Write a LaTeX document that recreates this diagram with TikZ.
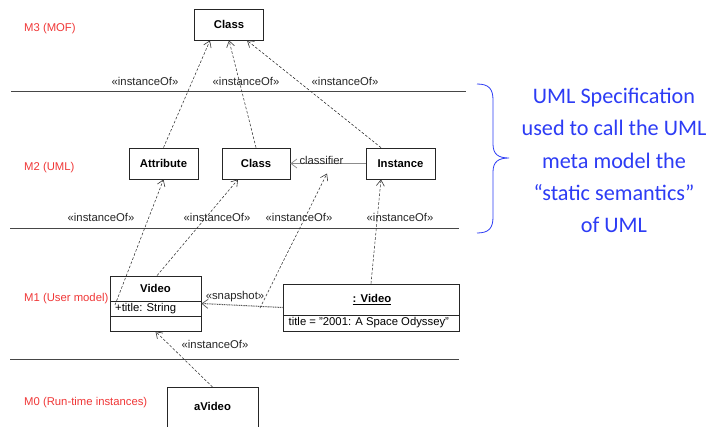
\documentclass[tikz,border=0pt]{standalone}
\usepackage{fontspec}
\setmainfont{Liberation Sans}
\newfontfamily\calibri{Carlito}
\usetikzlibrary{arrows.meta,calc}
\definecolor{lvlred}{RGB}{240,55,55}
\definecolor{notblue}{RGB}{45,60,245}
\definecolor{rulegray}{RGB}{70,70,70}
\newcommand{\umlfont}{\fontsize{11.3}{12.5}\selectfont}
\tikzset{
  umlbox/.style={draw=black!85, line width=0.8pt, fill=white, font=\umlfont\bfseries, inner sep=0pt},
  dep/.style={draw=black!80, line width=0.55pt, dash pattern=on 2.6pt off 1.8pt,
    -{Straight Barb[length=6pt,width=8pt,line width=0.6pt]}},
  assoc/.style={draw=black!45, line width=1pt, -{Straight Barb[length=6pt,width=9pt,line width=0.7pt]}},
  snap/.style={draw=black!65, line width=1pt, dash pattern=on 1pt off 0.7pt,
    -{Straight Barb[length=6pt,width=9pt,line width=0.7pt]}},
  stereo/.style={font=\umlfont, inner sep=0pt, text=black!85},
  level/.style={font=\umlfont, text=lvlred, anchor=west, inner sep=0pt},
  levelrule/.style={draw=rulegray, line width=0.8pt},
}
\begin{document}
\begin{tikzpicture}[x=1pt,y=-1pt]
\useasboundingbox (0,0) rectangle (710,426);
\clip (0,0) rectangle (710,426);
\fill[white] (0,0) rectangle (710,426);

% metalevel separators
\draw[levelrule] (11,91) -- (466,91);
\draw[levelrule] (10,228) -- (459,228);
\draw[levelrule] (10,359) -- (459,359);

% metalevel names
\node[level] (m3) at (24,29) {M3 (MOF)};
\node[level] (m2) at (24,168) {M2 (UML)};
\node[level] (m1) at (24,299) {M1 (User model)};
\node[level] (m0) at (24,403) {M0 (Run-time instances)};

% M3
\node[umlbox, minimum width=69, minimum height=31] (cls3) at (229,24.5) {Class};

% M2
\node[umlbox, minimum width=69, minimum height=31] (attr) at (163.5,163.5) {Attribute};
\node[umlbox, minimum width=68, minimum height=31] (cls2) at (256,163.5) {Class};
\node[umlbox, minimum width=69, minimum height=31] (inst) at (400.5,163.5) {Instance};

% M1: class Video
\node[draw=black!85, line width=0.8pt, minimum width=91, minimum height=55, inner sep=0pt] (video) at (155.5,303.5) {};
\node[font=\umlfont\bfseries, inner sep=0pt] (vname) at (155.5,288.5) {Video};
\draw[draw=black!85, line width=0.8pt] (110,301) -- (201,301);
\draw[draw=black!85, line width=0.8pt] (110,316) -- (201,316);
\node[font=\umlfont, anchor=west, inner sep=0pt] (vattr) at (115,308.5) {+title: String};

% M1: object :Video
\node[draw=black!85, line width=0.8pt, minimum width=176, minimum height=47, inner sep=0pt] (obj) at (371,307.5) {};
\node[font=\umlfont\bfseries, inner sep=0pt] (oname) at (372,299.5) {\underline{: Video}};
\draw[draw=black!85, line width=0.8pt] (283,315) -- (459,315);
\node[font=\umlfont, anchor=west, inner sep=0pt] (oattr) at (288.5,323) {title = "2001: A Space Odyssey"};

% M0
\node[umlbox, minimum width=91, minimum height=54, anchor=north] (avid) at (212.5,387) {};
\node[font=\umlfont\bfseries, inner sep=0pt] (avname) at (212.5,406) {aVideo};

% M2 -> M3 instantiation
\draw[dep] (attr.north) -- ([xshift=-19]cls3.south);
\draw[dep] (cls2.north) -- (cls3.south);
\draw[dep] ([xshift=-19.5]inst.north) -- ([xshift=18]cls3.south);
\node[stereo] (io1) at (145,81) {«instanceOf»};
\node[stereo] (io2) at (246,81) {«instanceOf»};
\node[stereo] (io3) at (345,81) {«instanceOf»};

% classifier association
\draw[assoc] (inst.west) -- (cls2.east);
\node[stereo] (clsf) at (321.5,160.5) {classifier};
\coordinate (clpt) at (327,173.5);

% M1 -> M2 instantiation
\coordinate (attrfoot) at (115,305);
\draw[dep] (attrfoot) -- (attr.south);
\draw[dep] ([xshift=1.5]video.north) -- ([xshift=-18]cls2.south);
\draw[snap] (obj.west) -- (video.east);
\coordinate (snapmid) at (260,308);
\draw[dep] (snapmid) -- (clpt);
\draw[dep] (obj.north) -- ([xshift=-19.5]inst.south);
\node[stereo] (io4) at (101,217) {«instanceOf»};
\node[stereo] (io5) at (217,217) {«instanceOf»};
\node[stereo] (io6) at (299,217) {«instanceOf»};
\node[stereo] (io7) at (400,217) {«instanceOf»};
\node[stereo] (snapl) at (235,296.5) {«snapshot»};

% M0 -> M1 instantiation
\draw[dep] (avid.north) -- (video.south);
\node[stereo] (io8) at (215,344) {«instanceOf»};

% note on the meta model
\draw[notblue, line width=0.8pt] (477,84) .. controls (489,84) and (493,89) .. (493,100)
  -- (493,144) .. controls (493,154) and (498,158) .. (509,158)
  .. controls (498,158) and (493,162) .. (493,172)
  -- (493,217) .. controls (493,228) and (489,233) .. (477,233);
\node[font=\calibri\fontsize{22.2}{32.3}\selectfont, text=notblue, align=center, inner sep=0pt] (note) at (614,160.5)
  {UML Specification\\used to call the UML\\meta model the\\“static semantics”\\of UML};
\end{tikzpicture}
\end{document}
